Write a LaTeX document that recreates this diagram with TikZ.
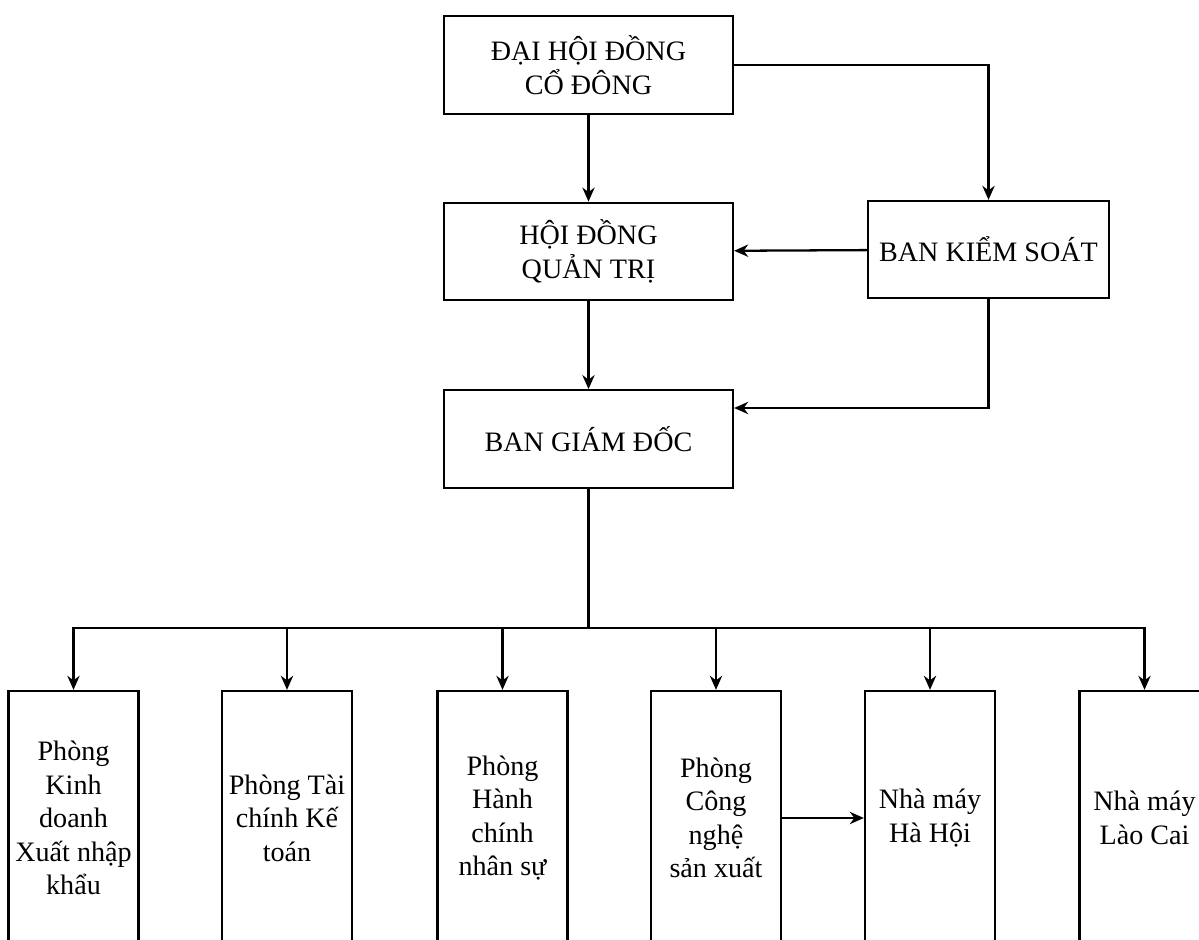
\documentclass[tikz,border=0pt]{standalone}
\usepackage{fontspec}
\setmainfont{Liberation Serif}
\usetikzlibrary{arrows.meta,positioning,calc}

\begin{document}
\begin{tikzpicture}[
      box/.style={rectangle,draw,line width=1.3pt,align=center,inner sep=2pt,
        font=\fontsize{16}{19}\selectfont},
      top/.style={box,minimum width=5.78cm,minimum height=1.95cm},
      dept/.style={box,minimum width=2.6cm,minimum height=5.08cm},
      every edge/.style={draw,line width=1.3pt,-{Stealth[length=8pt,width=7pt]}},
      line width=1.3pt
    ]
      \useasboundingbox (0,0) rectangle (23.98,-18.8);
      \node[top] (dhdcd) at (11.77,-1.30) {ĐẠI HỘI ĐỒNG\\CỔ ĐÔNG};
      \node[top] (hdqt) at (11.77,-5.03) {HỘI ĐỒNG\\QUẢN TRỊ};
      \node[box,minimum width=4.82cm,minimum height=1.94cm] (bks) at (19.77,-4.99) {BAN KIỂM SOÁT};
      \node[top] (bgd) at (11.77,-8.78) {BAN GIÁM ĐỐC};
      \node[dept] (kd) at (1.47,-16.36) {Phòng\\Kinh\\doanh\\Xuất nhập\\khẩu};
      \node[dept] (tc) at (5.74,-16.36) {Phòng Tài\\chính Kế\\toán};
      \node[dept] (hc) at (10.05,-16.36) {Phòng\\Hành\\chính\\nhân sự};
      \node[dept] (cn) at (14.32,-16.36) {Phòng\\Công\\nghệ\\sản xuất};
      \node[dept] (hh) at (18.60,-16.36) {Nhà máy\\Hà Hội};
      \node[dept] (lc) at (22.89,-16.36) {Nhà máy\\Lào Cai};
      \coordinate (bus) at (11.77,-12.56);
      % upper part
      \draw (dhdcd) edge (hdqt) (hdqt) edge (bgd) (bks) edge (hdqt) (cn) edge (hh);
      \draw (dhdcd.east) edge[to path={-| (\tikztotarget)}] (bks.north);
      \draw (bks.south) edge[to path={|- (\tikztotarget)}] ([yshift=6.2mm]bgd.east);
      % departments
      \draw (bgd.south) -- (bus);
      \foreach \d in {kd,tc,hc,cn,hh,lc}
        \draw (bus) edge[to path={-| (\tikztotarget)}] (\d.north);
    \end{tikzpicture}
\end{document}
